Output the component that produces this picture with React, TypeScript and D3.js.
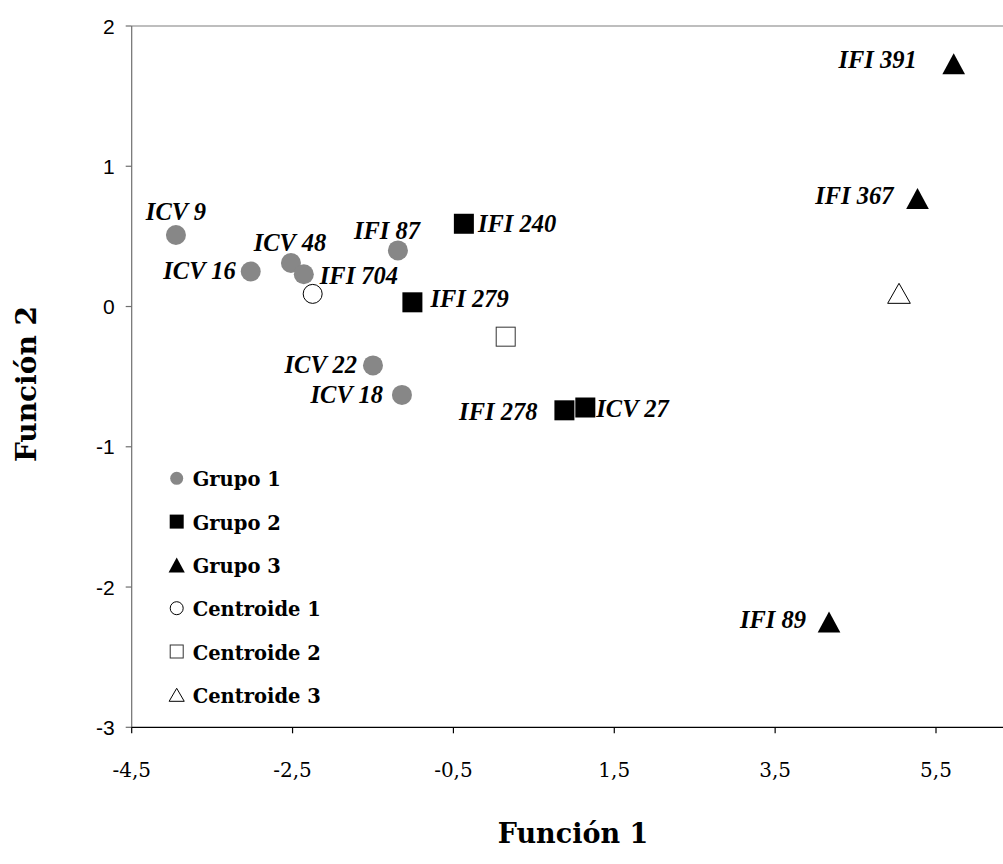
import React from "react";
import * as d3 from "d3";

// Discriminant scores (Función 1, Función 2) per accession
const grupo1Names = ["ICV 9", "ICV 16", "ICV 48", "IFI 704", "IFI 87", "ICV 22", "ICV 18"];
const grupo1F1 = [-3.95, -3.02, -2.52, -2.36, -1.19, -1.5, -1.14];
const grupo1F2 = [0.51, 0.25, 0.31, 0.23, 0.4, -0.42, -0.63];

const grupo2Names = ["IFI 240", "IFI 279", "IFI 278", "ICV 27"];
const grupo2F1 = [-0.37, -1.01, 0.88, 1.14];
const grupo2F2 = [0.59, 0.03, -0.74, -0.72];

const grupo3Names = ["IFI 391", "IFI 367", "IFI 89"];
const grupo3F1 = [5.72, 5.27, 4.17];
const grupo3F2 = [1.73, 0.77, -2.25];

// Group centroids
const centroidF1 = [-2.25, 0.15, 5.04];
const centroidF2 = [0.09, -0.215, 0.094];

const xTicks = [-4.5, -2.5, -0.5, 1.5, 3.5, 5.5];
const yTicks = [2, 1, 0, -1, -2, -3];
const legendLabels = ["Grupo 1", "Grupo 2", "Grupo 3", "Centroide 1", "Centroide 2", "Centroide 3"];

// Label placement relative to each marker: [dx, dy, anchor]
const labelPlacement: Record<string, [number, number, string]> = {
  "ICV 9": [0, -15, "middle"],
  "ICV 16": [-15, 8, "end"],
  "ICV 48": [-1, -12, "middle"],
  "IFI 704": [16, 10, "start"],
  "IFI 87": [-11, -11, "middle"],
  "ICV 22": [-16, 8, "end"],
  "ICV 18": [-19, 8, "end"],
  "IFI 240": [14, 8, "start"],
  "IFI 279": [18, 5, "start"],
  "IFI 278": [-27, 10, "end"],
  "ICV 27": [11, 9, "start"],
  "IFI 391": [-37, 4, "end"],
  "IFI 367": [-24, 5, "end"],
  "IFI 89": [-23, 6, "end"],
};

const W = 1003;
const H = 864;
const left = 131.7;
const unitX = 80.43;
const top = 26;
const bottom = 727.3;

const x = d3.scaleLinear().domain([-4.5, 6.5]).range([left, left + 11 * unitX]);
const y = d3.scaleLinear().domain([-3, 2]).range([bottom, top]);

const fmt = (v: number) => String(v).replace(".", ",");

const GRAY = "#878787";
const serif = "'DejaVu Serif', serif";
const labelFont = "'Liberation Serif', 'Times New Roman', serif";

function tri(cx: number, cy: number, w: number, h: number) {
  return `M${cx - w / 2},${cy + h / 2}L${cx},${cy - h / 2}L${cx + w / 2},${cy + h / 2}Z`;
}

function Marker({ kind, cx, cy, s }: { kind: number; cx: number; cy: number; s: number }) {
  switch (kind) {
    case 0:
      return <circle cx={cx} cy={cy} r={s / 2} fill={GRAY} />;
    case 1:
      return <rect x={cx - s / 2} y={cy - s / 2} width={s} height={s} fill="#000" />;
    case 2:
      return <path d={tri(cx, cy, s * 1.08, s)} fill="#000" />;
    case 3:
      return <circle cx={cx} cy={cy} r={s / 2 - 0.5} fill="#fff" stroke="#000" strokeWidth={1} />;
    case 4:
      return <rect x={cx - s / 2 + 0.5} y={cy - s / 2 + 0.5} width={s - 1} height={s - 1} fill="#fff" stroke="#333" strokeWidth={1} />;
    default:
      return <path d={tri(cx, cy, s * 1.08, s - 1)} fill="#fff" stroke="#000" strokeWidth={1} />;
  }
}

function PointLabel({ name, px, py }: { name: string; px: number; py: number }) {
  const [dx, dy, anchor] = labelPlacement[name];
  return (
    <text
      x={px + dx}
      y={py + dy}
      textAnchor={anchor as any}
      fontFamily={labelFont}
      fontWeight="bold"
      fontStyle="italic"
      fontSize={24.5}
      fill="#000"
    >
      {name}
    </text>
  );
}

export default function App() {
  const groups = [
    { names: grupo1Names, f1: grupo1F1, f2: grupo1F2, kind: 0, size: 20 },
    { names: grupo2Names, f1: grupo2F1, f2: grupo2F2, kind: 1, size: 20 },
    { names: grupo3Names, f1: grupo3F1, f2: grupo3F2, kind: 2, size: 21 },
  ];
  const legendY0 = 478.3;
  const legendStep = 43.3;

  return (
    <svg
      width={W}
      height={H}
      style={{ position: "absolute", left: 0, top: 0, background: "#fff" }}
    >
      <rect width={W} height={H} fill="#fff" />

      {/* plot frame top edge */}
      <line x1={left} x2={x(6.5)} y1={y(2)} y2={y(2)} stroke="#a8a8a8" strokeWidth={1.5} />

      {/* y axis */}
      <line x1={left} x2={left} y1={y(2)} y2={y(-3)} stroke="#6e6e6e" strokeWidth={1.2} />
      {yTicks.map((t) => (
        <g key={"yt" + t}>
          <line x1={left - 6} x2={left} y1={y(t)} y2={y(t)} stroke="#6e6e6e" strokeWidth={1.2} />
          <text
            x={left - 17}
            y={y(t)}
            dy="0.36em"
            textAnchor="end"
            fontFamily="'Liberation Sans', Arial, sans-serif"
            fontSize={21}
            fill="#000"
          >
            {t < 0 ? "-" + Math.abs(t) : String(t)}
          </text>
        </g>
      ))}

      {/* x axis */}
      <line x1={left} x2={x(6.5)} y1={y(-3)} y2={y(-3)} stroke="#000" strokeWidth={1.2} />
      {xTicks.map((t) => (
        <g key={"xt" + t}>
          <line x1={x(t)} x2={x(t)} y1={y(-3)} y2={y(-3) + 6} stroke="#000" strokeWidth={1.2} />
          <text
            x={x(t)}
            y={777}
            textAnchor="middle"
            fontFamily={serif}
            fontSize={20}
            fill="#000"
          >
            {fmt(t)}
          </text>
        </g>
      ))}

      {/* axis titles */}
      <text
        x={573}
        y={843}
        textAnchor="middle"
        fontFamily={serif}
        fontWeight="bold"
        fontSize={27}
        fill="#000"
      >
        Función 1
      </text>
      <text
        transform={`translate(36,${384}) rotate(-90)`}
        textAnchor="middle"
        fontFamily={serif}
        fontWeight="bold"
        fontSize={28}
        fill="#000"
      >
        Función 2
      </text>

      {/* centroids */}
      {centroidF1.map((v, i) => (
        <Marker key={"c" + i} kind={3 + i} cx={x(v)} cy={y(centroidF2[i])} s={i === 2 ? 21 : 20} />
      ))}

      {/* group points */}
      {groups.map((g) =>
        g.names.map((n, i) => (
          <Marker key={n} kind={g.kind} cx={x(g.f1[i])} cy={y(g.f2[i])} s={g.size} />
        ))
      )}

      {/* point labels */}
      {groups.map((g) =>
        g.names.map((n, i) => (
          <PointLabel key={"l" + n} name={n} px={x(g.f1[i])} py={y(g.f2[i])} />
        ))
      )}

      {/* legend */}
      {legendLabels.map((lab, i) => {
        const cy = legendY0 + i * legendStep;
        return (
          <g key={lab}>
            <Marker kind={i} cx={176.7} cy={cy} s={i === 0 ? 13 : i === 2 ? 15 : 14} />
            <text
              x={192.7}
              y={cy + 8}
              fontFamily={serif}
              fontWeight="bold"
              fontSize={19.5}
              fill="#000"
            >
              {lab}
            </text>
          </g>
        );
      })}
    </svg>
  );
}
